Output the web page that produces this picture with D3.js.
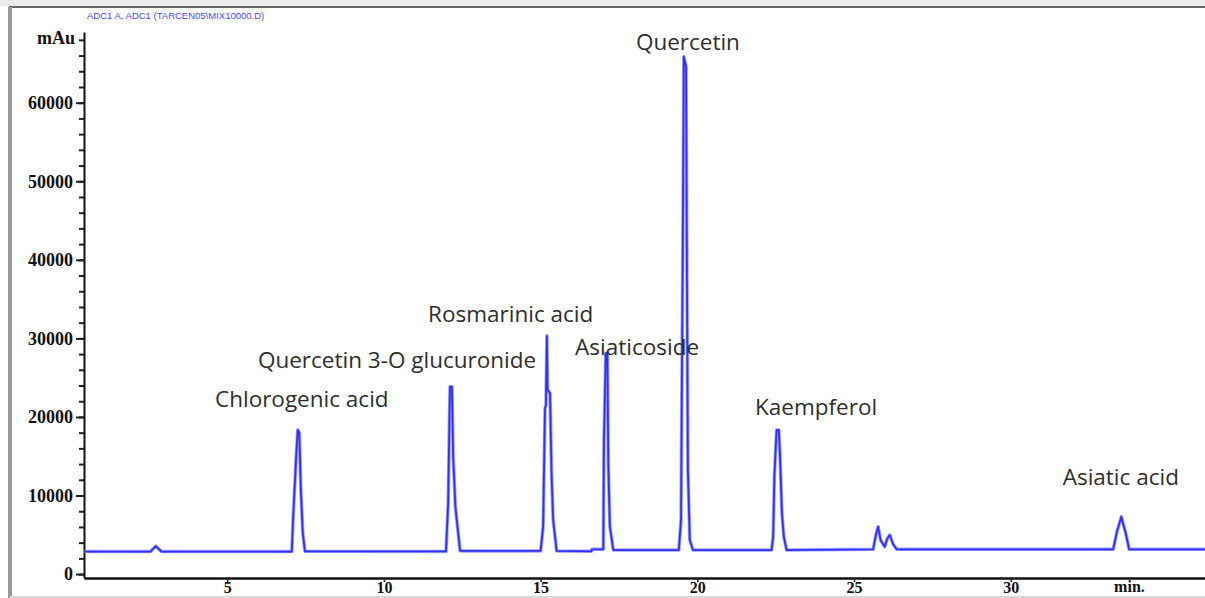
<!DOCTYPE html>
<html>
<head>
<meta charset="utf-8">
<script src="https://cdn.jsdelivr.net/npm/d3@7"></script>
<style>
  body { margin: 0; background: #fff; }
</style>
</head>
<body>
<script>
// chromatogram trace (time in min, signal in mAu)
const traceTime = [
  0.45,
  2.55, 2.72, 2.90,
  7.06, 7.11, 7.20, 7.25, 7.30, 7.35, 7.41, 7.48,
  11.98, 12.05, 12.09, 12.11, 12.17, 12.21, 12.28, 12.43,
  15.00, 15.08, 15.14, 15.17, 15.20, 15.22, 15.30, 15.35, 15.40, 15.51,
  16.62, 16.64,
  17.00, 17.02, 17.08, 17.13, 17.16, 17.21, 17.32,
  19.41, 19.48, 19.54, 19.57, 19.64, 19.67, 19.70, 19.76, 19.86,
  22.37, 22.42, 22.46, 22.53, 22.60, 22.64, 22.70, 22.76, 22.85,
  25.61, 25.70, 25.77, 25.85, 25.98, 26.06, 26.14, 26.25, 26.36,
  33.27, 33.39, 33.53, 33.67, 33.78,
  36.2
]
const traceSignal = [
  2870,
  2870, 3550, 2870,
  2870, 7730, 14940, 18350, 17960, 10700, 5220, 2900,
  2880, 9010, 19620, 23860, 23860, 14940, 8570, 2950,
  2950, 6030, 21110, 21500, 30320, 23500, 23020, 12610, 6880, 2950,
  2900, 3150,
  3150, 16650, 28120, 28120, 14100, 6030, 3060,
  3060, 6880, 43830, 65870, 64590, 37460, 13250, 4330, 3060,
  3060, 4750, 12500, 18350, 18350, 14940, 7730, 4750, 3060,
  3150, 5000, 6030, 4300, 3480, 4500, 4970, 3800, 3150,
  3150, 5390, 7300, 5190, 3150,
  3150
]

// peak annotations: label text and where its left baseline sits
const peakNames = ['Chlorogenic acid', 'Quercetin 3-O glucuronide', 'Rosmarinic acid',
  'Asiaticoside', 'Quercetin', 'Kaempferol', 'Asiatic acid']
const peakLabelTime = [4.61, 5.98, 11.41, 16.10, 18.04, 21.84, 31.66]
const peakLabelSignal = [21280, 26240, 32100, 27900, 66760, 20260, 11340]

const timeTicks = [5, 10, 15, 20, 25, 30]
const signalTicks = [0, 10000, 20000, 30000, 40000, 50000, 60000]
const signalMinorTicks = d3.range(0, 70000, 2000)
const headerText = 'ADC1 A, ADC1 (TARCEN05\\MIX10000.D)'

const width = 1205
const height = 598
const margin = {top: 32, bottom: 20, left: 84, right: 0}

const svg = d3.select('body')
  .append('svg')
  .attr('width', width)
  .attr('height', height)
  .style('display', 'block')

svg.append('rect').attr('width', width).attr('height', height).attr('fill', '#fff')

// window frame
svg.append('rect').attr('x', 0).attr('y', 0).attr('width', width).attr('height', 6).attr('fill', '#ececec')
svg.append('line').attr('x1', 9).attr('x2', width).attr('y1', 7).attr('y2', 7)
  .attr('stroke', '#666').attr('stroke-width', 2)
svg.append('line').attr('x1', 10).attr('x2', 10).attr('y1', 7).attr('y2', height)
  .attr('stroke', '#9a9a9a').attr('stroke-width', 4)
svg.append('line').attr('x1', 10).attr('x2', width).attr('y1', height - 1).attr('y2', height - 1)
  .attr('stroke', '#d8d8d8').attr('stroke-width', 2)

const x = d3.scaleLinear().domain([0.43, 36.2]).range([margin.left, width - margin.right])
const y = d3.scaleLinear().domain([-500, 69000]).range([height - margin.bottom, margin.top])

svg.append('text')
  .attr('x', 87).attr('y', 19)
  .attr('font-family', 'Liberation Sans, Arial, sans-serif')
  .attr('font-size', 9.5)
  .attr('fill', '#4a4aff')
  .text(headerText)

// y axis: minor ticks, then major ticks with labels
const serif = 'Liberation Serif, Times New Roman, serif'

svg.append('g')
  .attr('transform', `translate(${margin.left},0)`)
  .call(d3.axisLeft(y).tickValues(signalMinorTicks).tickSize(5).tickSizeOuter(0).tickFormat(''))
  .call((g) => g.selectAll('line').attr('stroke', '#222').attr('stroke-width', 2))
  .call((g) => g.select('.domain').remove())

const g_yaxis = svg.append('g')
  .attr('transform', `translate(${margin.left},0)`)
  .call(d3.axisLeft(y).tickValues(signalTicks).tickSize(8).tickSizeOuter(0).tickPadding(3)
    .tickFormat((d) => d))
g_yaxis.select('.domain').attr('stroke', '#111').attr('stroke-width', 2)
g_yaxis.selectAll('line').attr('stroke', '#222').attr('stroke-width', 2)
g_yaxis.selectAll('text')
  .attr('font-family', serif).attr('font-weight', 'bold').attr('font-size', 18).attr('fill', '#111')

svg.append('text')
  .attr('x', 37).attr('y', 44)
  .attr('font-family', serif).attr('font-weight', 'bold').attr('font-size', 18).attr('fill', '#111')
  .text('mAu')

// x axis
const g_xaxis = svg.append('g')
  .attr('transform', `translate(0,${y.range()[0]})`)
  .call(d3.axisBottom(x).tickValues(timeTicks).tickSize(4).tickSizeOuter(0).tickPadding(0))
g_xaxis.select('.domain').attr('stroke', '#111').attr('stroke-width', 2.5)
g_xaxis.selectAll('line').attr('stroke', '#222').attr('stroke-width', 1.5)
g_xaxis.selectAll('text')
  .attr('font-family', serif).attr('font-weight', 'bold').attr('font-size', 16).attr('fill', '#111')

svg.append('text')
  .attr('x', x(33.3)).attr('y', y.range()[0] + 14)
  .attr('font-family', serif).attr('font-weight', 'bold').attr('font-size', 16).attr('fill', '#111')
  .text('min.')

// trace
const trace = traceTime.map((t, i) => ({time: t, signal: traceSignal[i]}))
const line = d3.line().x((d) => x(d.time)).y((d) => y(d.signal))

svg.append('path')
  .datum(trace)
  .attr('fill', 'none')
  .attr('stroke', '#a0a0ff')
  .attr('stroke-width', 3.5)
  .attr('stroke-linejoin', 'round')
  .attr('d', line)
svg.append('path')
  .datum(trace)
  .attr('fill', 'none')
  .attr('stroke', '#2f2fff')
  .attr('stroke-width', 1.8)
  .attr('stroke-linejoin', 'round')
  .attr('d', line)

// peak labels
svg.append('g')
  .selectAll('text')
  .data(peakNames)
  .join('text')
  .attr('x', (d, i) => x(peakLabelTime[i]))
  .attr('y', (d, i) => y(peakLabelSignal[i]))
  .attr('font-family', 'Open Sans, sans-serif')
  .attr('font-size', 22.5)
  .attr('fill', '#2e2e2e')
  .text((d) => d)
</script>
</body>
</html>
